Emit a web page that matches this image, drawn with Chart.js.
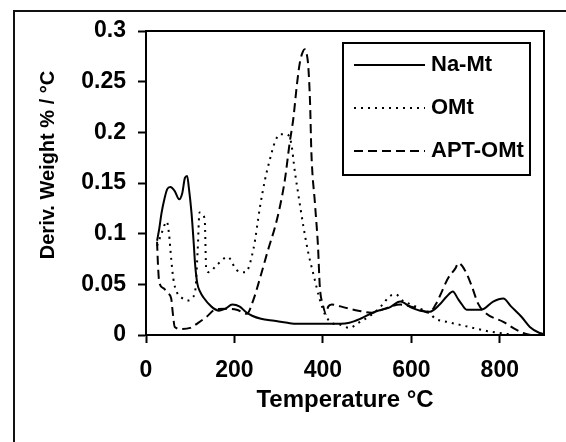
<!DOCTYPE html>
<html lang="en">
<head>
    <title>DTG curves</title>
    <meta charset="utf-8">
    <script src="https://cdn.jsdelivr.net/npm/chart.js"></script>
    <style>
        html, body { margin: 0; padding: 0; background: #fff; }
        #wrap { position: relative; width: 566px; height: 442px; overflow: hidden; }
        #frame { position: absolute; left: 13px; top: 10px; width: 600px; height: 500px;
                 border-left: 2px solid #111; border-top: 2px solid #111; }
        #dtgChart { position: absolute; left: 0; top: 0; }
    </style>
</head>
<body>
    <div id="wrap">
        <div id="frame"></div>
        <canvas id="dtgChart" width="566" height="442"></canvas>
    </div>

    <script>
        // values (temperature in °C, deriv. weight in %/°C)
        const naMtTemp = [25, 30, 35, 42, 48, 55, 65, 75, 82, 88, 93, 97, 103, 108, 111, 116, 122, 130, 148, 165,
            180, 195, 212, 225, 240, 260, 290, 320, 340, 400, 440, 460, 485, 518, 550, 575, 600, 620, 642, 664,
            680, 694, 705, 713, 725, 759, 785, 808, 826, 849, 868, 890, 900];
        const naMtDeriv = [0.093, 0.105, 0.12, 0.135, 0.144, 0.146, 0.142, 0.134, 0.14, 0.155, 0.157, 0.145, 0.12, 0.09, 0.07, 0.051, 0.043, 0.037, 0.028, 0.024,
            0.026, 0.030, 0.028, 0.023, 0.019, 0.016, 0.014, 0.012, 0.011, 0.011, 0.011, 0.012, 0.016, 0.023, 0.027, 0.033, 0.027, 0.024, 0.023, 0.030,
            0.038, 0.043, 0.036, 0.031, 0.025, 0.025, 0.033, 0.036, 0.028, 0.018, 0.008, 0.002, 0.001];

        const omtTemp = [25, 35, 47, 52, 57, 62, 70, 80, 95, 105, 112, 117, 121, 128, 133, 136, 142, 160, 185, 205,
            225, 243, 258, 269, 280, 292, 303, 318, 328, 337, 344, 356, 367, 378, 393, 405, 420, 440, 460, 480,
            510, 535, 550, 565, 580, 600, 620, 640, 655, 680, 710, 740, 770, 800, 825];
        const omtDeriv = [0.088, 0.1, 0.112, 0.1, 0.075, 0.055, 0.042, 0.037, 0.034, 0.037, 0.046, 0.085, 0.121, 0.119, 0.112, 0.066, 0.062, 0.069, 0.077, 0.064,
            0.062, 0.085, 0.127, 0.153, 0.173, 0.191, 0.198, 0.198, 0.19, 0.16, 0.14, 0.107, 0.081, 0.061, 0.035, 0.02, 0.012, 0.01, 0.007, 0.012,
            0.02, 0.03, 0.038, 0.04, 0.034, 0.03, 0.026, 0.022, 0.016, 0.013, 0.01, 0.007, 0.004, 0.002, 0.0005];

        const aptTemp = [25, 27, 30, 40, 50, 57, 61, 65, 80, 100, 118, 137, 156, 179, 205, 228, 243, 261, 276, 292,
            303, 314, 325, 333, 341, 348, 355, 359, 364, 367, 371, 374, 382, 389, 393, 400, 407, 412, 420, 450,
            480, 510, 540, 575, 600, 620, 640, 655, 664, 683, 700, 706, 721, 736, 751, 770, 808, 838, 853, 870];
        const aptDeriv = [0.092, 0.07, 0.052, 0.046, 0.041, 0.036, 0.02, 0.008, 0.006, 0.007, 0.012, 0.018, 0.025, 0.026, 0.025, 0.021, 0.035, 0.061, 0.084, 0.107,
            0.127, 0.153, 0.19, 0.213, 0.246, 0.269, 0.28, 0.282, 0.276, 0.265, 0.229, 0.18, 0.13, 0.087, 0.048, 0.03, 0.021, 0.028, 0.03, 0.027,
            0.024, 0.022, 0.026, 0.03, 0.028, 0.025, 0.022, 0.03, 0.038, 0.056, 0.066, 0.071, 0.064, 0.049, 0.031, 0.021, 0.013, 0.005, 0.002, 0];

        const seriesNames = ['Na-Mt', 'OMt', 'APT-OMt'];
        const xTicks = [0, 200, 400, 600, 800];
        const yTicks = [0, 0.05, 0.1, 0.15, 0.2, 0.25, 0.3];

        const FONT = "'Liberation Sans', Arial, sans-serif";

        const toPoints = (xs, ys) => xs.map((x, i) => ({ x: x, y: ys[i] }));

        // box around the plot area
        const plotBox = {
            id: 'plotBox',
            afterDraw(chart) {
                const { ctx, chartArea: a } = chart;
                ctx.save();
                ctx.lineWidth = 2;
                ctx.strokeStyle = '#000';
                ctx.strokeRect(a.left, a.top, a.right - a.left, a.bottom - a.top);
                ctx.restore();
            }
        };

        // rotated y title, a bit above the middle like the original
        const yTitle = {
            id: 'yTitle',
            afterDraw(chart, args, o) {
                const ctx = chart.ctx;
                ctx.save();
                ctx.translate(o.x, o.y);
                ctx.rotate(-Math.PI / 2);
                ctx.font = o.font;
                ctx.fillStyle = '#000';
                ctx.textAlign = 'center';
                ctx.textBaseline = 'middle';
                ctx.fillText(o.text, 0, 0);
                ctx.restore();
            }
        };

        // legend inside the plot with a border
        const boxLegend = {
            id: 'boxLegend',
            afterDraw(chart, args, o) {
                const ctx = chart.ctx;
                ctx.save();
                ctx.lineWidth = 2;
                ctx.strokeStyle = '#000';
                ctx.setLineDash([]);
                ctx.strokeRect(o.left, o.top, o.width, o.height);
                ctx.font = o.font;
                ctx.fillStyle = '#000';
                ctx.textBaseline = 'middle';
                chart.data.datasets.forEach((ds, i) => {
                    const y = o.firstRow + i * o.rowGap;
                    ctx.lineWidth = ds.borderWidth;
                    ctx.setLineDash(ds.borderDash || []);
                    ctx.beginPath();
                    ctx.moveTo(o.lineStart, y);
                    ctx.lineTo(o.lineEnd, y);
                    ctx.stroke();
                    ctx.setLineDash([]);
                    ctx.fillText(ds.label, o.textX, y);
                });
                ctx.restore();
            }
        };

        const ctx = document.getElementById('dtgChart').getContext('2d');
        const dtgChart = new Chart(ctx, {
            type: 'line',
            data: {
                datasets: [{
                    label: seriesNames[0],
                    data: toPoints(naMtTemp, naMtDeriv),
                    borderColor: '#000',
                    borderWidth: 2,
                    borderDash: []
                }, {
                    label: seriesNames[1],
                    data: toPoints(omtTemp, omtDeriv),
                    borderColor: '#000',
                    borderWidth: 2,
                    borderDash: [2, 5]
                }, {
                    label: seriesNames[2],
                    data: toPoints(aptTemp, aptDeriv),
                    borderColor: '#000',
                    borderWidth: 2,
                    borderDash: [9, 5]
                }]
            },
            options: {
                responsive: false,
                devicePixelRatio: 1,
                animation: false,
                layout: { padding: { left: 0, right: 22, top: 31, bottom: 0 } },
                elements: {
                    point: { radius: 0 },
                    line: { cubicInterpolationMode: 'monotone', fill: false }
                },
                scales: {
                    x: {
                        type: 'linear',
                        min: 0,
                        max: 900,
                        afterBuildTicks: (s) => { s.ticks = xTicks.map(v => ({ value: v })); },
                        afterFit: (s) => { s.height = 107; },
                        ticks: {
                            color: '#000',
                            padding: 14,
                            font: { family: FONT, size: 23, weight: 'bold' }
                        },
                        grid: { drawOnChartArea: false, tickLength: 8, tickWidth: 2, color: '#000' },
                        border: { display: true, color: '#000', width: 2 },
                        title: {
                            display: true,
                            text: 'Temperature °C',
                            color: '#000',
                            font: { family: FONT, size: 24, weight: 'bold' },
                            padding: { top: 0, bottom: 27 }
                        }
                    },
                    y: {
                        min: 0,
                        max: 0.3,
                        afterBuildTicks: (s) => { s.ticks = yTicks.map(v => ({ value: v })); },
                        afterFit: (s) => { s.width = 146; },
                        ticks: {
                            color: '#000',
                            padding: 12,
                            font: { family: FONT, size: 23, weight: 'bold' },
                            callback: (v) => String(Number(v.toFixed(2)))
                        },
                        grid: { drawOnChartArea: false, tickLength: 8, tickWidth: 2, color: '#000' },
                        border: { display: true, color: '#000', width: 2 }
                    }
                },
                plugins: {
                    legend: { display: false },
                    tooltip: { enabled: false },
                    yTitle: {
                        text: 'Deriv. Weight % / °C',
                        x: 48,
                        y: 165,
                        font: 'bold 20px ' + FONT
                    },
                    boxLegend: {
                        left: 343, top: 43, width: 187, height: 132,
                        firstRow: 65, rowGap: 43,
                        lineStart: 354, lineEnd: 425, textX: 431,
                        font: 'bold 22px ' + FONT
                    }
                }
            },
            plugins: [plotBox, yTitle, boxLegend]
        });
    </script>
</body>
</html>
